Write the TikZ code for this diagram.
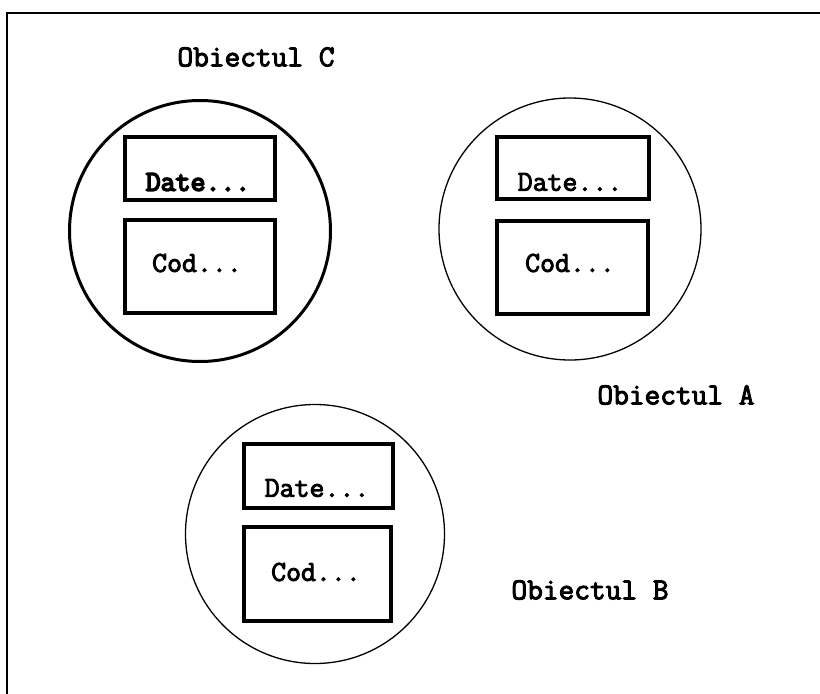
\documentclass[tikz,border=0pt]{standalone}
\usepackage{fontspec}
\setmonofont{Latin Modern Mono}[AutoFakeBold=3.2]
\newfontfamily\heavymono{Latin Modern Mono}[FakeBold=5.5]
\begin{document}
\begin{tikzpicture}[x=1pt,y=-1pt,
  objcircle/.style={draw, circle, inner sep=0pt, line width=1.3pt},
  boldcircle/.style={objcircle, line width=3pt},
  partbox/.style={draw, rectangle, inner sep=0pt, line width=4pt},
  lbl/.style={inner sep=0pt, font=\ttfamily\bfseries\fontsize{29}{34}\selectfont},
  heavylbl/.style={inner sep=0pt, font=\heavymono\fontsize{29}{34}\selectfont},
  title/.style={inner sep=0pt, font=\ttfamily\bfseries\fontsize{30.5}{36}\selectfont}]
\useasboundingbox (0,0) rectangle (820,694);
% open frame
\coordinate (ftr) at (820,13);
\coordinate (ftl) at (7,13);
\coordinate (fbl) at (7,694);
\draw[line width=2.5pt] (ftr) -- (ftl) -- (fbl);

% Object C
\node[title] (tC) at (256,57) {Obiectul C};
\node[boldcircle, minimum size=261pt] (cC) at (200,231) {};
\node[partbox, minimum width=150pt, minimum height=63pt] (dC) at (200,168.5) {};
\node[partbox, minimum width=150pt, minimum height=93pt] (kC) at (200,266.5) {};
\node[heavylbl] (dCt) at (198,182) {Date...};
\node[lbl] (kCt) at (197,263) {Cod...};

% Object A
\node[objcircle, minimum size=262pt] (cA) at (570,229) {};
\node[partbox, minimum width=152pt, minimum height=62pt] (dA) at (573,168) {};
\node[partbox, minimum width=151pt, minimum height=93pt] (kA) at (572.5,267.5) {};
\node[lbl] (dAt) at (570,182) {Date...};
\node[lbl] (kAt) at (570,263) {Cod...};
\node[title] (tA) at (676,395) {Obiectul A};

% Object B
\node[objcircle, minimum size=259pt] (cB) at (315,534) {};
\node[partbox, minimum width=149pt, minimum height=64pt] (dB) at (318.5,476) {};
\node[partbox, minimum width=147pt, minimum height=94pt] (kB) at (317.5,574) {};
\node[lbl] (dBt) at (317,488) {Date...};
\node[lbl] (kBt) at (316,572) {Cod...};
\node[title] (tB) at (590,590) {Obiectul B};
\end{tikzpicture}
\end{document}
